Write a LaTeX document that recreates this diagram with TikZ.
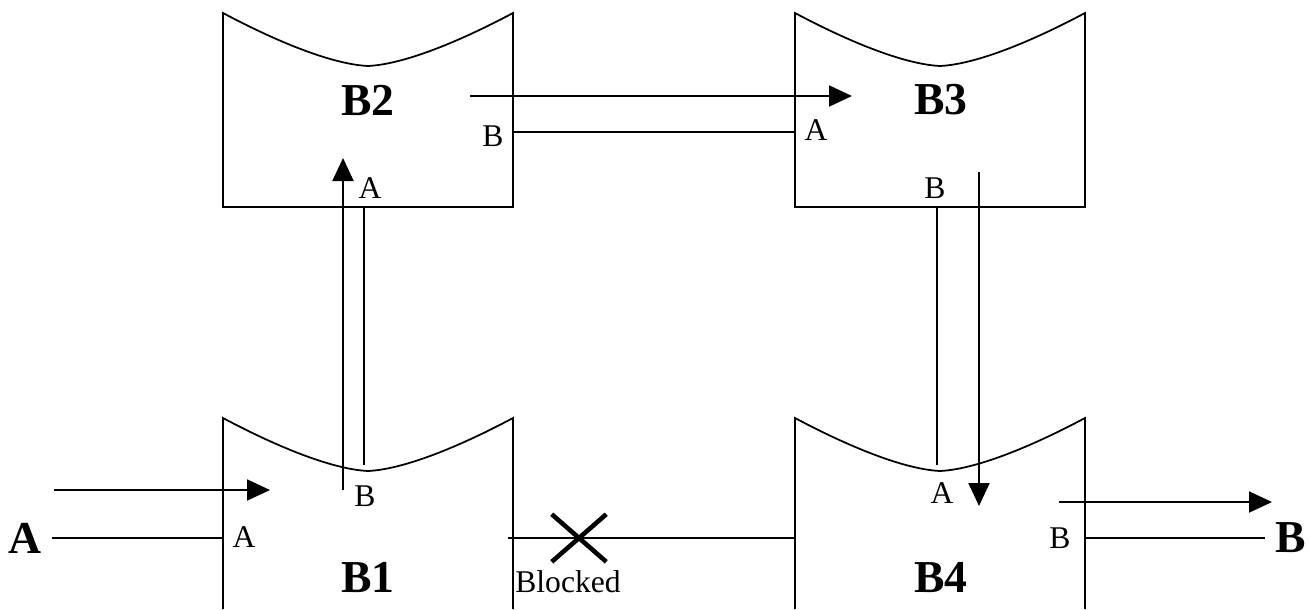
\documentclass[tikz,border=0pt]{standalone}
\usepackage{fontspec}
\setmainfont{Liberation Serif}
\usetikzlibrary{arrows.meta, shapes.misc}
\tikzset{
    >={Triangle[length=0.46cm, width=0.42cm]},
    % Buffers
    wall/.style={line width=1pt},
    pics/buffer/.style={code={
        \draw[wall] (0,#1) -- (0,0) .. controls (45,24) and (105,51) .. (145,53)
            .. controls (185,51) and (245,24) .. (290,0) -- (290,#1);
    }},
    pics/closed buffer/.style={code={
        \draw[wall] (0,#1) -- (0,0) .. controls (45,24) and (105,51) .. (145,53)
            .. controls (185,51) and (245,24) .. (290,0) -- (290,#1) -- cycle;
    }},
    % Labels
    title/.style={font=\fontsize{26}{30}\selectfont\bfseries, inner sep=6pt},
    port/.style={font=\fontsize{18}{20}\selectfont, inner sep=0pt},
    % Flow & Links
    flow/.style={->, line width=1.1pt},
    link/.style={line width=1.1pt},
    blocked/.style={cross out, draw, line width=2.6pt, inner sep=0pt,
                    minimum width=1.0cm, minimum height=0.86cm}
}
\begin{document}
\begin{tikzpicture}[x=0.02cm, y=-0.02cm]
\useasboundingbox (0,0) rectangle (1310,609);

% Buffers
\pic at (223,13) {closed buffer=194};
\pic at (795,13) {closed buffer=194};
\pic at (223,418) {buffer=191};
\pic at (795,418) {buffer=191};

\node[title] (b1) at (368,577) {B1};
\node[title] (b2) at (368,100) {B2};
\node[title] (b3) at (941,100) {B3};
\node[title] (b4) at (941,578) {B4};
\node[title] (src) at (25,538) {A};
\node[title] (sink) at (1291,538) {B};

% Ports
\coordinate (b1-a) at (223,538);
\coordinate (b1-b) at (364,465);
\coordinate (b1-c) at (508,538);
\coordinate (b2-a) at (364,207);
\coordinate (b2-b) at (513,132);
\coordinate (b3-a) at (795,132);
\coordinate (b3-b) at (937,207);
\coordinate (b4-a) at (937,465);
\coordinate (b4-b) at (1084,538);
\coordinate (b4-c) at (795,538);

\node[port] (b1-al) at (244,537) {A};
\node[port] (b1-bl) at (365,496) {B};
\node[port] (b2-al) at (370,188) {A};
\node[port] (b2-bl) at (493,136) {B};
\node[port] (b3-al) at (816,130) {A};
\node[port] (b3-bl) at (935,188) {B};
\node[port] (b4-al) at (942,493) {A};
\node[port] (b4-bl) at (1060,538) {B};

% Flow ends
\coordinate (in0) at (54,490);
\coordinate (in1) at (270,490);
\coordinate (up0) at (343,490);
\coordinate (up1) at (343,158);
\coordinate (right0) at (470,96);
\coordinate (right1) at (852,96);
\coordinate (down0) at (979,172);
\coordinate (down1) at (979,506);
\coordinate (out0) at (1059,502);
\coordinate (out1) at (1272,502);

% Links
\draw[link] (src) -- (b1-a);
\draw[link] (b1-b) -- (b2-a);
\draw[link] (b2-b) -- (b3-a);
\draw[link] (b3-b) -- (b4-a);
\draw[link] (b4-b) -- (sink);
\draw[link] (b1-c) -- (b4-c);
\node[blocked] (cut) at (579,538) {};
\node[port, anchor=west] (cut-l) at (515,582) {Blocked};

% Flows
\draw[flow] (in0) -- (in1);
\draw[flow] (up0) -- (up1);
\draw[flow] (right0) -- (right1);
\draw[flow] (down0) -- (down1);
\draw[flow] (out0) -- (out1);

\end{tikzpicture}
\end{document}
